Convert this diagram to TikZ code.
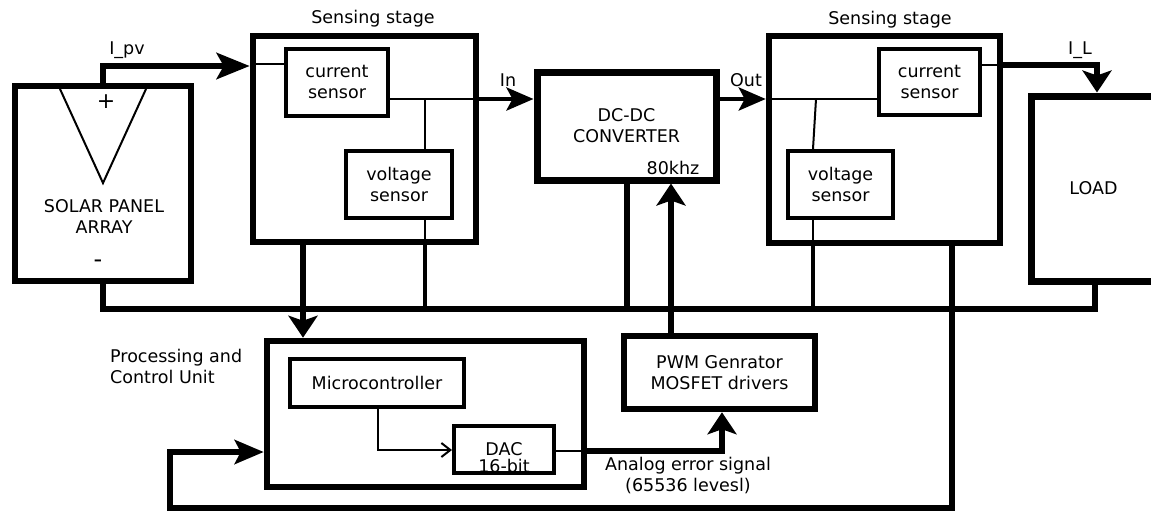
\documentclass[tikz,border=0pt]{standalone}
\usepackage{fontspec}
\setmainfont{DejaVu Sans}
\usetikzlibrary{arrows.meta}
\begin{document}
\begin{tikzpicture}[x=1pt,y=-1pt,
  font=\fontsize{17.5}{21}\selectfont,
  box/.style={draw, line width=6.5pt, inner sep=0pt, align=center},
  sbox/.style={draw, line width=4pt, inner sep=0pt, align=center},
  thinl/.style={line width=2pt},
  medl/.style={line width=4.5pt},
  thickl/.style={line width=6.5pt},
  lbl/.style={inner sep=0pt, align=center},
  harrow/.style={-{Stealth[length=27pt,width=23pt,inset=6pt]}},
  varrow/.style={-{Stealth[length=22pt,width=29pt,inset=5pt]}},
  barb/.style={-{Straight Barb[length=9pt,width=14pt,line width=2pt]}}
]
\useasboundingbox (0,0) rectangle (1151,512);
\fill[white] (0,0) rectangle (1151,512);

% boxes
\node[box, minimum width=176pt, minimum height=195pt] (solar) at (103,183.5) {};
\node[box, minimum width=223pt, minimum height=206pt] (sens1) at (364.5,139) {};
\node[sbox, minimum width=102pt, minimum height=67pt] (cs1) at (337,82) {current\\sensor};
\node[sbox, minimum width=106pt, minimum height=67pt] (vs1) at (399,184.5) {voltage\\sensor};
\node[box, line width=7pt, minimum width=179pt, minimum height=108pt] (dcdc) at (626.5,126) {DC-DC\\CONVERTER};
\node[box, minimum width=231pt, minimum height=207pt] (sens2) at (884.5,139.5) {};
\node[sbox, minimum width=101pt, minimum height=66pt] (cs2) at (929.5,82) {current\\sensor};
\node[sbox, minimum width=105pt, minimum height=67pt] (vs2) at (840.5,184.5) {voltage\\sensor};
\node[box, line width=7pt, minimum width=125pt, minimum height=185pt] (load) at (1093.5,188.5) {LOAD};
\node[box, minimum width=317pt, minimum height=146pt] (proc) at (425.5,414) {};
\node[sbox, line width=4.5pt, minimum width=174pt, minimum height=48pt] (mc) at (377,383) {Microcontroller};
\node[sbox, minimum width=100pt, minimum height=47pt] (dac) at (504,449.5) {};
\node[box, minimum width=191pt, minimum height=73pt] (pwm) at (719.5,372.5) {PWM Genrator\\MOSFET drivers};

% texts
\node[lbl] (solartxt) at (104,216) {SOLAR PANEL\\ARRAY};
\node[lbl, font=\fontsize{22}{24}\selectfont] (plus) at (106,102) {+};
\node[lbl, font=\fontsize{24}{24}\selectfont] (minus) at (98,264) {-};
\node[lbl] (ss1) at (373,19) {Sensing stage};
\node[lbl] (ss2) at (890,20) {Sensing stage};
\node[lbl] (ipv) at (127,50) {I\_pv};
\node[lbl] (il) at (1080,50) {I\_L};
\node[lbl] (intxt) at (508,80) {In};
\node[lbl] (outtxt) at (746,80) {Out};
\node[lbl] (freq) at (673,168) {80khz};
\node[lbl] (dactxt) at (504,449) {DAC};
\node[lbl] (dacbits) at (504,466) {16-bit};
\node[lbl, align=left, anchor=west] (proctxt) at (110,366) {Processing and\\Control Unit};
\node[lbl] (aes) at (688,475) {Analog error signal\\(65536 levesl)};

% solar symbol
\draw[thinl] (60,89) -- (103,183) -- (146,89);

% I_pv
\draw[thickl, -{Stealth[length=33pt,width=26pt,inset=7pt]}] (solar.north) |- (sens1.west |- 0,66);
\draw[thinl] (sens1.west |- 0,64) -- (cs1.west |- 0,64);

% sensing 1 to converter
\draw[thinl] (cs1.east |- 0,99) -- (sens1.east |- 0,99);
\draw[medl, harrow] (sens1.east |- 0,99) -- (dcdc.west |- 0,99);
\draw[thinl] (425,99) -- (vs1.north -| 425,0);
\draw[thinl] (vs1.south -| 425,0) -- (sens1.south -| 425,0);
\draw[medl] (sens1.south -| 425,0) -- (425,309);

% bus
\draw[thickl] (solar.south) -- (103,309) -- (1095,309) -- (load.south -| 1095,0);

% sensing 1 to processing
\draw[thickl, varrow] (sens1.south -| 303,0) -- (proc.north -| 303,0);

% converter
\draw[thickl] (dcdc.south -| 627,0) -- (627,309);
\draw[thickl, varrow] (pwm.north -| 671,0) -- (dcdc.south -| 671,0);
\draw[medl, harrow] (dcdc.east |- 0,99) -- (sens2.west |- 0,99);

% sensing 2
\draw[thinl] (sens2.west |- 0,99) -- (cs2.west |- 0,99);
\draw[thinl] (816,99) -- (vs2.north -| 813,0);
\draw[thinl] (vs2.south -| 813,0) -- (sens2.south -| 813,0);
\draw[medl] (sens2.south -| 813,0) -- (813,309);
\draw[thinl] (cs2.east |- 0,65) -- (sens2.east |- 0,65);
\draw[thickl, varrow] (sens2.east |- 0,65) -| (load.north -| 1097,0);

% feedback
\draw[thickl, -{Stealth[length=29pt,width=24pt,inset=6pt]}] (sens2.south -| 952,0) -- (952,508) -- (170,508) -- (170,452) -- (proc.west |- 0,452);

% processing internals
\draw[thinl, barb] (mc.south -| 378,0) |- (dac.west |- 0,450);
\draw[thinl] (dac.east |- 0,451) -- (proc.east |- 0,451);
\draw[thickl, varrow] (proc.east |- 0,451) -| (pwm.south -| 722,0);
\end{tikzpicture}
\end{document}
